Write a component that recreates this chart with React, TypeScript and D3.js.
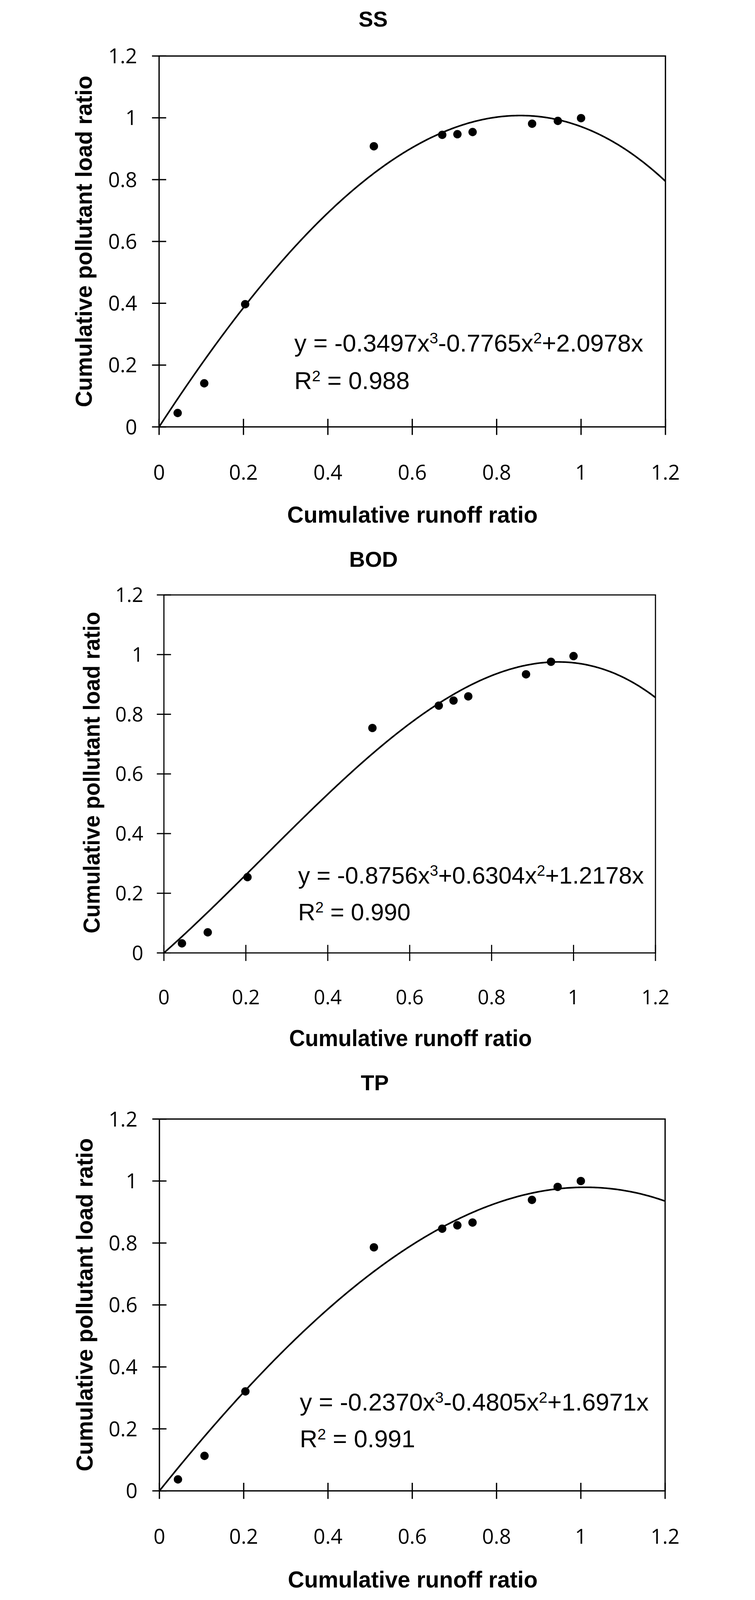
import React from "react";
import * as d3 from "d3";

// ---- data ----
const runoffRatio = [0.044, 0.107, 0.204, 0.509, 0.671, 0.707, 0.743, 0.884, 0.945, 1.0];
const ssLoad = [0.045, 0.141, 0.397, 0.908, 0.945, 0.947, 0.954, 0.981, 0.99, 0.999];
const bodLoad = [0.032, 0.069, 0.254, 0.754, 0.829, 0.846, 0.86, 0.934, 0.976, 0.995];
const tpLoad = [0.037, 0.113, 0.321, 0.786, 0.846, 0.857, 0.866, 0.939, 0.981, 1.0];

// trendline coefficients (x^3, x^2, x) as printed in the chart
const ssCoef = [-0.3497, -0.7765, 2.0978];
const bodCoef = [-0.8756, 0.6304, 1.2178];
const tpCoef = [-0.237, -0.4805, 1.6971];

const ssEq = ["y = -0.3497x", "3", "-0.7765x", "2", "+2.0978x"];
const bodEq = ["y = -0.8756x", "3", "+0.6304x", "2", "+1.2178x"];
const tpEq = ["y = -0.2370x", "3", "-0.4805x", "2", "+1.6971x"];
const r2Values = ["0.988", "0.990", "0.991"];
const titles = ["SS", "BOD", "TP"];

const xTicks = [0, 0.2, 0.4, 0.6, 0.8, 1, 1.2];
const yTicks = [0, 0.2, 0.4, 0.6, 0.8, 1, 1.2];
const tickLabels = ["0", "0.2", "0.4", "0.6", "0.8", "1", "1.2"];

const xTitle = "Cumulative runoff ratio";
const yTitle = "Cumulative pollutant load ratio";

// ---- layout (styles / positions, in reference pixels) ----
const W = 1933;
const H = 4970;
const layouts = [
  { L: 288, R: 1861, T: 174, B: 1326, titleX: 953, titleY: 82, ytX: 79, ytY: 750, ytLen: 1030, xtX: 1075, xtY: 1624, xtLen: 778, tickF: 64, yGap: 68, xLabGap: 164, eqX: 708, eqY: 1092, r2Y: 1209, eqF: 76, axisW: 4 },
  { L: 303, R: 1830, T: 1848, B: 2960, titleX: 954, titleY: 1761, ytX: 103, ytY: 2400, ytLen: 999, xtX: 1069, xtY: 3249, xtLen: 754, tickF: 62, yGap: 64, xLabGap: 160, eqX: 720, eqY: 2745, r2Y: 2859, eqF: 74, axisW: 3.5 },
  { L: 289, R: 1860, T: 3476, B: 4631, titleX: 958, titleY: 3387, ytX: 81, ytY: 4053, ytLen: 1035, xtX: 1076, xtY: 4931, xtLen: 776, tickF: 64, yGap: 68, xLabGap: 164, eqX: 725, eqY: 4382, r2Y: 4496, eqF: 76, axisW: 4 },
];

const panelData = [
  { load: ssLoad, coef: ssCoef, eq: ssEq },
  { load: bodLoad, coef: bodCoef, eq: bodEq },
  { load: tpLoad, coef: tpCoef, eq: tpEq },
];

const ARIAL = "'Liberation Sans', Arial, sans-serif";
const TICKFONT = "'Open Sans', 'Noto Sans', sans-serif";

function Panel({ idx }: { idx: number }) {
  const lay = layouts[idx];
  const pd = panelData[idx];
  const x = d3.scaleLinear().domain([0, 1.2]).range([lay.L, lay.R]);
  const y = d3.scaleLinear().domain([0, 1.2]).range([lay.B, lay.T]);
  const [a, b, c] = pd.coef;
  const f = (t: number) => a * t * t * t + b * t * t + c * t;
  const curveX = d3.range(0, 1.2 + 1e-9, 0.004);
  const line = d3
    .line<number>()
    .x((t) => x(t))
    .y((t) => y(f(t)));
  const F = lay.eqF;
  const supShift = 0.33 * F;
  const supSize = 0.63 * F;
  return (
    <g>
      <text x={lay.titleX} y={lay.titleY} textAnchor="middle" fontFamily={ARIAL} fontWeight="bold" fontSize={68} fill="#000">
        {titles[idx]}
      </text>
      <rect x={lay.L} y={lay.T} width={lay.R - lay.L} height={lay.B - lay.T} fill="none" stroke="#000" strokeWidth={lay.axisW} />
      {yTicks.map((v) => (
        <line key={"yt" + v} x1={lay.L - 22} x2={lay.L + 22} y1={y(v)} y2={y(v)} stroke="#000" strokeWidth={lay.axisW} />
      ))}
      {xTicks.map((v) => (
        <line key={"xt" + v} x1={x(v)} x2={x(v)} y1={lay.B - 25} y2={lay.B + 25} stroke="#000" strokeWidth={lay.axisW} />
      ))}
      {yTicks.map((v, i) => (
        <text key={"yl" + v} x={lay.L - lay.yGap} y={y(v) + 0.357 * lay.tickF} textAnchor="end" fontFamily={TICKFONT} fontSize={lay.tickF} fill="#000">
          {tickLabels[i]}
        </text>
      ))}
      {xTicks.map((v, i) => (
        <text key={"xl" + v} x={x(v)} y={lay.B + lay.xLabGap} textAnchor="middle" fontFamily={TICKFONT} fontSize={lay.tickF} fill="#000">
          {tickLabels[i]}
        </text>
      ))}
      <path d={line(curveX) || ""} fill="none" stroke="#000" strokeWidth={5} strokeLinejoin="round" />
      {runoffRatio.map((rv, i) => (
        <circle key={"p" + i} cx={x(rv)} cy={y(pd.load[i])} r={13} fill="#000" />
      ))}
      <text x={lay.eqX} y={lay.eqY} fontFamily={ARIAL} fontSize={F} fill="#000">
        <tspan>{pd.eq[0]}</tspan>
        <tspan fontSize={supSize} dy={-supShift}>{pd.eq[1]}</tspan>
        <tspan dy={supShift}>{pd.eq[2]}</tspan>
        <tspan fontSize={supSize} dy={-supShift}>{pd.eq[3]}</tspan>
        <tspan dy={supShift}>{pd.eq[4]}</tspan>
      </text>
      <text x={lay.eqX} y={lay.r2Y} fontFamily={ARIAL} fontSize={F} fill="#000">
        <tspan>R</tspan>
        <tspan fontSize={supSize} dy={-supShift}>2</tspan>
        <tspan dy={supShift}>{" = " + r2Values[idx]}</tspan>
      </text>
      <text x={lay.xtX} y={lay.xtY} textAnchor="middle" fontFamily={ARIAL} fontWeight="bold" fontSize={72} fill="#000" textLength={lay.xtLen} lengthAdjust="spacingAndGlyphs">
        {xTitle}
      </text>
      <text
        transform={`translate(${lay.ytX},${lay.ytY}) rotate(-90)`}
        textAnchor="middle"
        fontFamily={ARIAL}
        fontWeight="bold"
        fontSize={72}
        fill="#000"
        textLength={lay.ytLen}
        lengthAdjust="spacingAndGlyphs"
      >
        {yTitle}
      </text>
    </g>
  );
}

export default function App() {
  // the visible viewport may be shorter than the reference; scale uniformly to fit it
  const vh = typeof window !== "undefined" && window.innerHeight ? window.innerHeight : H;
  const vw = typeof window !== "undefined" && window.innerWidth ? window.innerWidth : W;
  const outH = Math.min(H, vh);
  const outW = Math.min(W, vw);
  return (
    <svg
      width={outW}
      height={outH}
      viewBox={`0 0 ${W} ${H}`}
      preserveAspectRatio="xMidYMin meet"
      style={{ position: "absolute", left: 0, top: 0, background: "#fff", display: "block" }}
    >
      <rect x={0} y={0} width={W} height={H} fill="#fff" />
      {[0, 1, 2].map((i) => (
        <Panel key={i} idx={i} />
      ))}
    </svg>
  );
}
